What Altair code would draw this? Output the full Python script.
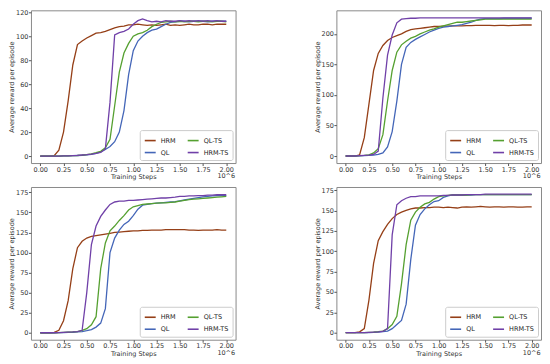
import altair as alt
import pandas as pd

steps = [round(i * 0.05, 2) for i in range(41)]
series_names = ["HRM", "QL", "QL-TS", "HRM-TS"]
series_colors = ["#953f17", "#4466b8", "#55a030", "#7040a8"]

# Panel 1 (top left)
p1_hrm = [0, 0, 0, 0.3, 5, 20, 46, 76, 93, 96, 98.5, 100.5, 102.5, 103, 104, 105.5, 107, 108, 108.5, 109.5, 109.5,
          110, 109.5, 109, 109.5, 109, 109.5, 110, 109, 109.5, 109, 109.5, 110, 109.5, 109.5, 110, 110, 109.5, 110, 110, 110]
p1_hrmts = [0, 0, 0, 0, 0, 0.1, 0.2, 0.4, 0.6, 0.9, 1.2, 1.6, 2.2, 3, 6, 45, 101, 103, 104, 106, 110,
            113, 114.5, 113, 112, 112.5, 112, 113, 112.5, 112.5, 113, 112.5, 113, 112.5, 113, 112.5, 113, 112.5, 113, 112.5, 112.5]
p1_qlts = [0, 0, 0, 0, 0, 0.1, 0.2, 0.3, 0.5, 0.8, 1.2, 1.8, 2.8, 4, 7, 14, 42, 70, 86, 94, 100,
           102, 103, 105, 108, 110, 111.5, 112, 112.5, 112, 112.5, 112, 112.5, 112.5, 112, 112.5, 112.5, 112, 112.5, 112.5, 112]
p1_ql = [0, 0, 0, 0, 0, 0.1, 0.2, 0.3, 0.5, 0.7, 1, 1.4, 2.2, 3.5, 5.5, 8, 12, 20, 38, 68, 88,
         96, 100, 103, 105, 106, 108, 110, 111.5, 112, 112.5, 112.5, 112, 112.5, 112.5, 112.5, 112, 112.5, 112.5, 112.5, 112.5]

# Panel 2 (top right)
p2_hrm = [0, 0, 0, 2, 30, 85, 140, 168, 181, 189, 194, 197, 200, 204, 207, 208, 209, 210, 211, 212, 212,
          212.5, 212.5, 213, 213, 213, 213.5, 213.5, 214, 214, 214, 214, 213.5, 214, 214, 213.5, 214, 214, 214.5, 214.5, 214.5]
p2_hrmts = [0, 0, 0, 0.5, 1, 1.5, 2.5, 8, 95, 165, 198, 218, 224, 225, 225.5, 225.5, 226, 226, 226, 226, 226,
            226, 226, 226, 226, 226, 226, 226, 226, 226, 226, 226, 226, 226, 226, 226, 226, 226, 226, 226, 226]
p2_qlts = [0, 0, 0, 0.5, 1, 2, 5, 12, 35, 90, 140, 170, 182, 188, 193, 196, 200, 203, 206, 208, 211,
           213, 215, 217, 219, 219, 220, 221, 222, 223, 224, 224, 224, 224, 224, 224, 224, 224, 224, 224, 224]
p2_ql = [0, 0, 0, 0.3, 0.6, 1, 1.5, 2.5, 5, 15, 40, 90, 150, 178, 186, 191, 195, 199, 203, 206, 209,
         211, 212, 213, 214, 215, 217, 219, 222, 224, 225, 225, 225, 225, 225.5, 225.5, 225.5, 225.5, 225.5, 225.5, 225.5]

# Panel 3 (bottom left)
p3_hrm = [0, 0, 0, 0.5, 3, 15, 40, 80, 106, 114, 118, 120, 121, 122, 123, 124, 125, 125.5, 126, 126.5, 127,
          127, 127.5, 127.5, 128, 128, 128, 128.5, 128.5, 128.5, 128.5, 128.5, 128, 128, 127.5, 128, 128, 128, 128.5, 128, 128]
p3_hrmts = [0, 0, 0, 0, 0.2, 0.4, 0.7, 1, 1.5, 3, 50, 110, 133, 145, 153, 160, 163, 164, 164, 165, 165,
            165.5, 166, 166.5, 167, 167.5, 168, 168, 168.5, 169, 170, 170, 170.5, 170.5, 171, 171, 171.5, 171.5, 172, 172, 172]
p3_qlts = [0, 0, 0, 0, 0.2, 0.4, 0.7, 1, 1.5, 3, 5, 10, 20, 80, 112, 127, 133, 140, 146, 153, 157,
           158.5, 160, 160.5, 161, 161.5, 162, 162, 162.5, 163, 164, 165, 166, 166.5, 167, 167.5, 168, 168.5, 169, 169.5, 170]
p3_ql = [0, 0, 0, 0, 0.1, 0.2, 0.4, 0.6, 1, 1.5, 2.5, 4, 7, 12, 30, 100, 118, 128, 135, 139, 146,
         154, 159, 160, 161, 161.5, 162, 162.5, 163, 163.5, 164.5, 165.5, 166.5, 167.5, 168.5, 169.5, 170, 170.5, 171, 171, 171]

# Panel 4 (bottom right)
p4_hrm = [0, 0, 0, 1, 5, 40, 85, 113, 124, 133, 140, 145, 148, 150, 152, 153, 153, 153.5, 153.5, 154, 154,
          153.5, 154, 153.5, 153, 154, 154.5, 154, 154.5, 155, 154.5, 154, 154.5, 154.5, 154, 154.5, 154.5, 154, 154, 154.5, 154.5]
p4_hrmts = [0, 0, 0, 0, 0.2, 0.4, 0.7, 1, 1.5, 5, 120, 157, 162, 165, 167, 167, 168, 168, 168, 168, 168,
            168.5, 168.5, 169, 169, 169, 169.5, 169.5, 169.5, 169.5, 170, 170, 170, 170, 170, 170, 170, 170, 170, 170, 170]
p4_qlts = [0, 0, 0, 0, 0.2, 0.4, 0.7, 1.2, 2, 5, 10, 20, 60, 108, 138, 148, 154, 158, 160, 164, 167,
           168, 168.5, 169, 169, 169, 169, 169.5, 169.5, 169.5, 169.5, 169.5, 169.5, 169.5, 169.5, 169.5, 169.5, 169.5, 169.5, 169.5, 169.5]
p4_ql = [0, 0, 0, 0, 0.1, 0.2, 0.4, 0.8, 1.2, 2, 5, 10, 15, 35, 90, 132, 145, 152, 157, 161, 162,
         166, 168, 169, 169, 169, 169, 169, 169.5, 169.5, 169.5, 169.5, 169.5, 169.5, 169.5, 169.5, 169.5, 169.5, 169.5, 169.5, 169.5]

y_ticks_1 = [0, 20, 40, 60, 80, 100, 120]
y_ticks_2 = [0, 50, 100, 150, 200]
y_ticks_3 = [0, 25, 50, 75, 100, 125, 150, 175]
x_ticks = [0, 0.25, 0.5, 0.75, 1.0, 1.25, 1.5, 1.75, 2.0]

W, H = 205, 153
FS = 6.5


def xenc(field):
    return alt.X(field, type="quantitative",
                 scale=alt.Scale(domain=[-0.1, 2.1], nice=False, zero=False),
                 axis=alt.Axis(values=x_ticks, format=".2f", title="Training Steps", labelOverlap=False))


def panel(hrm, ql, qlts, hrmts, ydom, yticks):
    rows = []
    for name, vals in zip(series_names, [hrm, ql, qlts, hrmts]):
        for xv, yv in zip(steps, vals):
            rows.append({"x": xv, "y": yv, "series": name})
    df = pd.DataFrame(rows)
    lines = alt.Chart(df).mark_line(strokeWidth=1.3).encode(
        x=xenc("x"),
        y=alt.Y("y:Q", scale=alt.Scale(domain=ydom, nice=False, zero=False),
                axis=alt.Axis(values=yticks, title="Average reward per episode", labelOverlap=False)),
        color=alt.Color("series:N",
                        scale=alt.Scale(domain=series_names, range=series_colors),
                        sort=series_names,
                        legend=alt.Legend(title=None, orient="bottom-right", columns=2,
                                          symbolType="stroke", symbolStrokeWidth=1.6,
                                          symbolSize=120, labelFontSize=FS, offset=3,
                                          padding=4, columnPadding=7, rowPadding=2, labelOffset=4,
                                          fillColor="white", strokeColor="#cccccc",
                                          cornerRadius=2, labelColor="#222")),
        detail="series:N",
    )
    off = alt.Chart(pd.DataFrame({"t": ["10^6"], "x": [2.0]})).mark_text(
        fontSize=FS, align="center", baseline="top", color="#333").encode(
        x=xenc("x"), y=alt.value(H + 10), text="t:N")
    return alt.layer(lines, off).properties(width=W, height=H)


c1 = panel(p1_hrm, p1_ql, p1_qlts, p1_hrmts, [-5.8, 121.6], y_ticks_1)
c2 = panel(p2_hrm, p2_ql, p2_qlts, p2_hrmts, [-11.5, 238.5], y_ticks_2)
c3 = panel(p3_hrm, p3_ql, p3_qlts, p3_hrmts, [-8.7, 181.7], y_ticks_3)
c4 = panel(p4_hrm, p4_ql, p4_qlts, p4_hrmts, [-8.6, 178.8], y_ticks_3)

row1 = alt.hconcat(c1, c2, spacing=77).resolve_scale(y="independent").resolve_legend(color="independent")
row2 = alt.hconcat(c3, c4, spacing=77).resolve_scale(y="independent").resolve_legend(color="independent")

chart = alt.vconcat(row1, row2, spacing=5).resolve_scale(y="independent").resolve_legend(
    color="independent").properties(padding={"left": 0, "top": 0, "right": 0, "bottom": 0}).configure_axis(
    labelFontSize=FS, titleFontSize=FS, titleFontWeight="normal", labelColor="#333", titleColor="#333",
    tickSize=2.5, labelPadding=0.5, titlePadding=1, grid=False, domain=False, tickColor="#555",
    labelFont="DejaVu Sans", titleFont="DejaVu Sans", labelOverlap=False
).configure_legend(labelFont="DejaVu Sans").configure_text(font="DejaVu Sans").configure_view(
    stroke="#8a8a8a", strokeWidth=1)

chart.save("out.html", embed_options={"renderer": "svg", "actions": False})
